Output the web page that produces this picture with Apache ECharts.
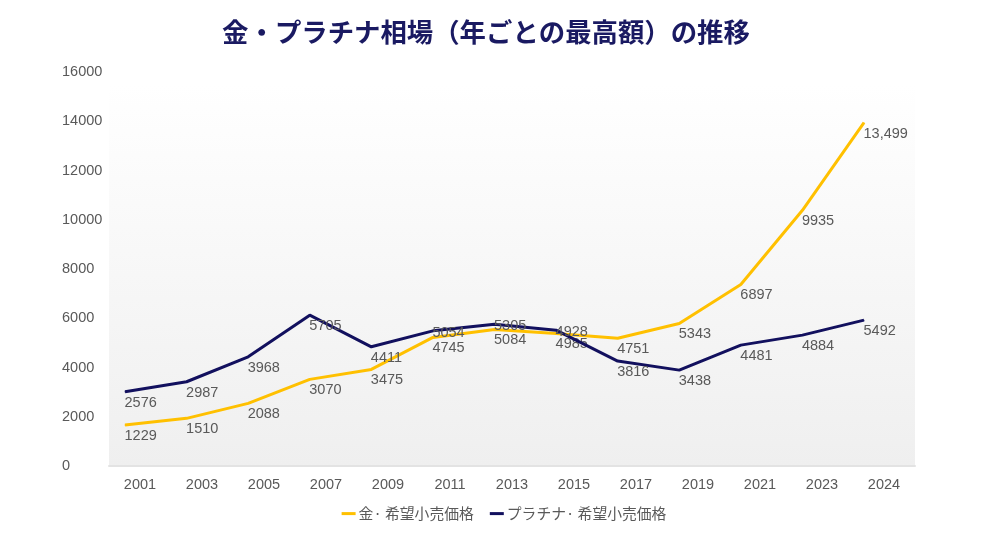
<!DOCTYPE html>
<html>
<head>
<meta charset="utf-8">
<script src="https://cdn.jsdelivr.net/npm/echarts@6/dist/echarts.min.js"></script>
<style>
html,body{margin:0;padding:0;background:#fff;}
#chart{width:1008px;height:552px;}
</style>
</head>
<body>
<div id="chart"></div>
<script>
// ---- data ----
var years = ['2001','2003','2005','2007','2009','2011','2013','2015','2017','2019','2021','2023','2024'];
var goldValues = [1663, 1935, 2543, 3517, 3922, 5221, 5545, 5383, 5190, 5789, 7371, 10385, 13943];
var platinumValues = [3015, 3421, 4434, 6126, 4840, 5489, 5761, 5517, 4260, 3894, 4909, 5314, 5923];
var goldLabels = ['1229','1510','2088','3070','3475','4745','5084','4985','4751','5343','6897','9935','13,499'];
var platinumLabels = ['2576','2987','3968','5705','4411','5054','5305','4928','3816','3438','4481','4884','5492'];
var yTicks = [0, 2000, 4000, 6000, 8000, 10000, 12000, 14000, 16000];
var seriesNames = ['金· 希望小売価格', 'プラチナ· 希望小売価格'];
var titleText = '金・プラチナ相場（年ごとの最高額）の推移';

var GOLD = '#FFC000';
var NAVY = '#12105E';
var TXT = '#595959';
var raisedPlatinum = {5: true, 6: true, 7: true};

function buildData(values, labels, raised) {
  return values.map(function (v, i) {
    var item = {value: v, label: {formatter: labels[i]}};
    if (raised && raised[i]) { item.label.position = [0, -5]; }
    return item;
  });
}

var chart = echarts.init(document.getElementById('chart'));
var lblFont = {fontFamily: 'Liberation Sans, Arial, sans-serif', fontSize: 14.5, color: TXT};

chart.setOption({
  animation: false,
  backgroundColor: '#ffffff',
  title: {
    text: titleText,
    left: 481, top: 14, textAlign: 'center',
    textStyle: {fontFamily: 'Noto Sans CJK JP', fontWeight: 'bold', fontSize: 26.4, color: '#1a1a62'}
  },
  legend: {
    bottom: 26, left: 'center',
    itemWidth: 14, itemHeight: 3, itemGap: 16,
    icon: 'rect',
    textStyle: {fontFamily: 'Noto Sans CJK JP', fontSize: 14.8, color: TXT, padding: [0, 0, 0, -2]},
    data: [{name: seriesNames[0]}, {name: seriesNames[1]}]
  },
  graphic: [{
    type: 'rect', z: -10, silent: true,
    shape: {x: 109, y: 84, width: 806, height: 382},
    style: {fill: new echarts.graphic.LinearGradient(0, 0, 0, 1, [
      {offset: 0, color: '#ffffff'}, {offset: 1, color: '#efefef'}])}
  }],
  grid: [
    {left: 109, right: 93, top: 72, bottom: 86},
    {left: 125, right: 144, top: 72, bottom: 86}
  ],
  xAxis: [
    {type: 'category', gridIndex: 0, data: years, boundaryGap: true,
     axisLine: {show: true, lineStyle: {color: '#e3e3e3', width: 2}},
     axisTick: {show: false},
     axisLabel: Object.assign({margin: 11}, lblFont)},
    {type: 'category', gridIndex: 1, data: years, boundaryGap: false, show: false}
  ],
  yAxis: [
    {type: 'value', gridIndex: 0, min: yTicks[0], max: yTicks[yTicks.length - 1], interval: 2000,
     axisLine: {show: false}, axisTick: {show: false}, splitLine: {show: false},
     axisLabel: Object.assign({align: 'left', margin: 47, formatter: function (v) { return String(v); }}, lblFont)},
    {type: 'value', gridIndex: 1, min: yTicks[0], max: yTicks[yTicks.length - 1], show: false}
  ],
  series: [
    {name: seriesNames[0], type: 'line', xAxisIndex: 1, yAxisIndex: 1,
     data: buildData(goldValues, goldLabels),
     symbol: 'circle', symbolSize: 1, showSymbol: true,
     itemStyle: {color: GOLD},
     lineStyle: {color: GOLD, width: 3},
     label: Object.assign({show: true, position: [0, 4], align: 'left', verticalAlign: 'top'}, lblFont),
     z: 3},
    {name: seriesNames[1], type: 'line', xAxisIndex: 1, yAxisIndex: 1,
     data: buildData(platinumValues, platinumLabels, raisedPlatinum),
     symbol: 'circle', symbolSize: 1, showSymbol: true,
     itemStyle: {color: NAVY},
     lineStyle: {color: NAVY, width: 3},
     label: Object.assign({show: true, position: [0, 4], align: 'left', verticalAlign: 'top'}, lblFont),
     z: 4}
  ]
});
</script>
</body>
</html>
